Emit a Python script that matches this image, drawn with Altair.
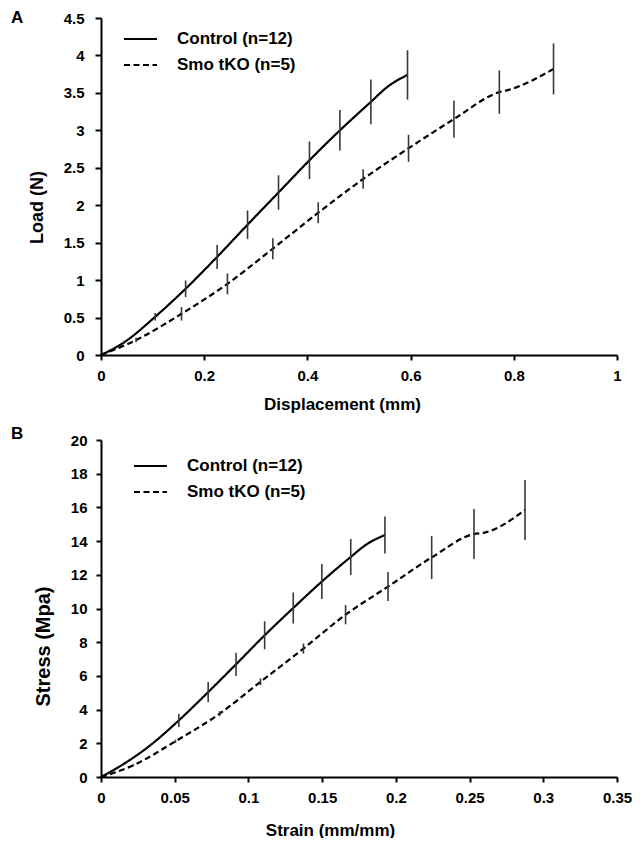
import altair as alt
import pandas as pd

LABELS = ["Control (n=12)", "Smo tKO (n=5)"]
LETTERS = ["A", "B"]

# Panel A: Load (N) vs Displacement (mm); e = error bar half-length (0 = no bar)
a_ctrl_x = [0, 0.045, 0.105, 0.164, 0.225, 0.284, 0.344, 0.404, 0.463, 0.523, 0.555, 0.594]
a_ctrl_y = [0, 0.17, 0.51, 0.885, 1.31, 1.74, 2.17, 2.6, 3.0, 3.38, 3.58, 3.74]
a_ctrl_e = [0, 0.02, 0.05, 0.11, 0.16, 0.19, 0.23, 0.25, 0.27, 0.30, 0, 0.33]

a_smo_x = [0, 0.068, 0.156, 0.245, 0.333, 0.421, 0.508, 0.596, 0.684, 0.772, 0.79, 0.877]
a_smo_y = [0, 0.2, 0.55, 0.95, 1.42, 1.9, 2.35, 2.76, 3.15, 3.51, 3.54, 3.82]
a_smo_e = [0, 0.03, 0.09, 0.14, 0.14, 0.14, 0.13, 0.18, 0.25, 0.29, 0, 0.34]

# Panel B: Stress (Mpa) vs Strain (mm/mm)
b_ctrl_x = [0, 0.014, 0.0334, 0.0528, 0.0727, 0.0916, 0.1110, 0.1304, 0.1498, 0.1694, 0.18, 0.1926]
b_ctrl_y = [0, 0.7, 1.88, 3.36, 5.04, 6.69, 8.41, 10.03, 11.6, 13.06, 13.8, 14.36]
b_ctrl_e = [0, 0, 0.08, 0.4, 0.6, 0.69, 0.83, 0.92, 1.04, 1.07, 0, 1.1]

b_smo_x = [0, 0.022, 0.0505, 0.0805, 0.1082, 0.1373, 0.1659, 0.1947, 0.2243, 0.253, 0.26, 0.2876]
b_smo_y = [0, 0.7, 2.12, 3.76, 5.65, 7.62, 9.63, 11.3, 13.03, 14.42, 14.5, 15.85]
b_smo_e = [0, 0.05, 0.1, 0.15, 0.2, 0.3, 0.57, 0.86, 1.28, 1.48, 0, 1.78]

a_xticks = [0, 0.2, 0.4, 0.6, 0.8, 1]
a_yticks = [0, 0.5, 1, 1.5, 2, 2.5, 3, 3.5, 4, 4.5]
b_xticks = [0, 0.05, 0.1, 0.15, 0.2, 0.25, 0.3, 0.35]
b_yticks = [0, 2, 4, 6, 8, 10, 12, 14, 16, 18, 20]

TITLE_FONT = "Liberation Sans"
TICK_FONT = "Liberation Sans"


def frame(cx, cy, ce, sx, sy, se):
    d1 = pd.DataFrame({"x": cx, "y": cy, "e": ce, "g": LABELS[0]})
    d2 = pd.DataFrame({"x": sx, "y": sy, "e": se, "g": LABELS[1]})
    return pd.concat([d1, d2], ignore_index=True)


def panel(df, letter, xdom, ydom, xticks, yticks, xtitle, ytitle,
          xt, yt, ytx, yty, ytsize, legx, legy, ylabpad, ytick, lety):
    xaxis = alt.Axis(values=xticks, tickCount=len(xticks) + 2, format="~g",
                     title=xtitle, grid=False,
                     titleX=xt, titleY=yt, titleBaseline="middle", titleAlign="center",
                     titleFont=TITLE_FONT, titleFontSize=17, titleFontWeight="bold",
                     titleColor="black", labelFont=TICK_FONT, labelFontSize=15,
                     labelFontWeight="bold", labelColor="black", labelFlush=False,
                     labelOverlap=False,
                     domainColor="black", domainWidth=2, tickColor="black",
                     tickWidth=2, tickSize=5, labelPadding=8)
    yaxis = alt.Axis(values=yticks, tickCount=len(yticks) + 2, format="~g",
                     title=ytitle, grid=False,
                     titleX=ytx, titleY=yty, titleBaseline="middle", titleAlign="center",
                     titleFont=TITLE_FONT, titleFontSize=ytsize, titleFontWeight="bold",
                     titleColor="black", labelFont=TICK_FONT, labelFontSize=15,
                     labelFontWeight="bold", labelColor="black", labelFlush=False,
                     labelOverlap=False,
                     domainColor="black", domainWidth=2, tickColor="black",
                     tickWidth=2, tickSize=ytick, labelPadding=ylabpad)
    xs = alt.Scale(domain=xdom, nice=False, zero=False)
    ys = alt.Scale(domain=ydom, nice=False, zero=False)
    legend = alt.Legend(orient="none", legendX=legx, legendY=legy, title=None,
                        symbolType="stroke", symbolSize=1089, symbolStrokeWidth=2,
                        symbolStrokeColor="black", labelFont=TITLE_FONT,
                        labelFontSize=17, labelFontWeight="bold", labelColor="black",
                        labelOffset=19, rowPadding=-8, padding=0)
    line = alt.Chart(df).mark_line(color="black", strokeWidth=2.2,
                                   interpolate="monotone").encode(
        x=alt.X("x:Q", scale=xs, axis=xaxis),
        y=alt.Y("y:Q", scale=ys, axis=yaxis),
        strokeDash=alt.StrokeDash("g:N", scale=alt.Scale(domain=LABELS,
                                  range=[[1, 0], [6, 3.5]]), legend=legend),
    )
    bars = alt.Chart(df).transform_filter("datum.e > 0").transform_calculate(
        lo="datum.y - datum.e", hi="datum.y + datum.e"
    ).mark_rule(color="#383838", strokeWidth=1.6).encode(
        x="x:Q", y="lo:Q", y2="hi:Q"
    )
    lab = alt.Chart(pd.DataFrame({"t": [letter]})).mark_text(
        font=TITLE_FONT, fontSize=17, fontWeight="bold", color="black",
        align="left", baseline="middle"
    ).encode(x=alt.value(-90), y=alt.value(lety), text="t:N")
    return alt.layer(line, bars, lab).properties(width=516, height=337)


dfa = frame(a_ctrl_x, a_ctrl_y, a_ctrl_e, a_smo_x, a_smo_y, a_smo_e)
dfb = frame(b_ctrl_x, b_ctrl_y, b_ctrl_e, b_smo_x, b_smo_y, b_smo_e)

pa = panel(dfa, LETTERS[0], [0, 1], [0, 4.5], a_xticks, a_yticks,
           "Displacement (mm)", "Load (N)", 241, 49, -64, 189, 18, 22, 3.5, 11, 6, 0)
pb = panel(dfb, LETTERS[1], [0, 0.35], [0, 20], b_xticks, b_yticks,
           "Strain (mm/mm)", "Stress (Mpa)", 229, 53, -58, 206, 20, 32, 8.5, 9, 5, -6)

chart = alt.vconcat(pa, pb, spacing=85, bounds="flush").resolve_scale(
    x="independent", y="independent", strokeDash="independent"
).resolve_legend(strokeDash="independent").configure_view(stroke=None).properties(
    padding={"left": 3, "top": 1, "right": 0, "bottom": 0}
)

chart.save("out.html", embed_options={"renderer": "svg", "actions": False})
